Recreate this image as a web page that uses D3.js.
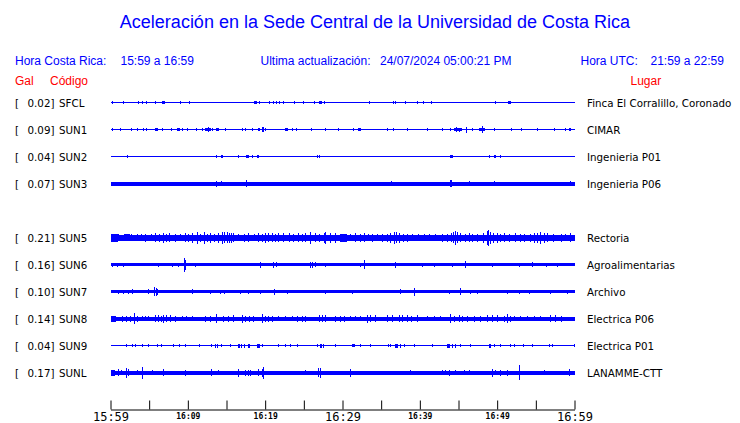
<!DOCTYPE html>
<html><head><meta charset="utf-8">
<script src="https://cdn.jsdelivr.net/npm/d3@7/dist/d3.min.js"></script>
<style>
html,body{margin:0;padding:0;background:#fff;}
svg{display:block;}
</style></head><body>
<svg id="chart" width="740" height="423"></svg>
<script>
// ---------- data ----------
const title = "Aceleración en la Sede Central de la Universidad de Costa Rica";
const localRange = "15:59 a 16:59";
const utcRange = "21:59 a 22:59";
const lastUpdate = "24/07/2024 05:00:21 PM";
const startTime = "2024-07-24T15:59:00";
const endTime = "2024-07-24T16:59:00";
const rowSlots = ["SFCL","SUN1","SUN2","SUN3","SUN4","SUN5","SUN6","SUN7","SUN8","SUN9","SUNL"];
const codes = ["SFCL","SUN1","SUN2","SUN3","SUN5","SUN6","SUN7","SUN8","SUN9","SUNL"];
const galValues = [0.02,0.09,0.04,0.07,0.21,0.16,0.10,0.14,0.04,0.17];
const places = ["Finca El Corralillo, Coronado","CIMAR","Ingenieria P01","Ingenieria P06","Rectoria","Agroalimentarias","Archivo","Electrica P06","Electrica P01","LANAMME-CTT"];
// background noise level (relative amplitude) of each trace
const noiseLevel = [0.5,0.5,0.5,2,3,1.5,1.5,2,0.5,2];
// peaks: [minutes after 15:59, relative amplitude, duration in minutes]
const peaksSFCL = [[0.16,1.5],[1.58,1.5],[3.6,1.5],[4.04,1.5],[4.56,1.5],[5.76,1.5],[6.71,1.5,0.35],[9.0,1.5],[10.16,1.5],[18.58,1.5,0.35],[19.22,1.5],[20.56,1.5],[21.0,1.5],[21.42,1.5],[21.85,1.5],[22.29,1.5],[23.75,1.5],[24.88,1.5],[26.25,1.5],[26.9,1.5,0.35],[27.55,1.5],[33.37,1.5],[36.53,1.5],[36.83,1.5],[38.03,1.5],[39.64,1.5],[40.41,1.5],[41.49,1.5],[49.68,1.5],[51.42,1.5,0.35]];
const peaksSUN1 = [[0.2,1.5],[1.2,1.5],[2.7,1.5],[3.4,1.5],[4.2,1.5],[4.6,1.5],[5.8,1.5,0.35],[6.6,1.5],[7.8,1.5],[8.6,1.5,0.35],[9.2,1.5],[9.9,1.5],[11.1,1.5],[11.8,1.5],[12.2,1.5,0.8],[12.6,2.5],[13.1,1.5],[13.7,1.5,0.35],[14.8,1.5],[17.0,1.5],[17.4,1.5],[18.3,1.5],[19.1,1.5,0.3],[19.6,2.5,0.3],[20.0,1.5],[22.5,1.5,0.35],[23.5,1.5],[24.0,1.5],[25.9,1.5],[27.8,1.5],[29.4,1.5],[31.3,1.5],[32.0,1.5,0.35],[35.7,1.5],[36.5,1.5],[38.3,1.5],[40.9,1.5],[42.9,1.5],[43.9,1.5],[44.4,1.5,1.0],[44.7,2.5],[45.1,2],[46.0,3],[46.8,1.5],[47.7,1.5,0.8],[48.1,3.5],[49.6,1.5],[51.8,1.5],[53.1,1.5],[55.2,1.5],[57.4,1.5],[58.8,1.5],[59.3,1.5,0.3]];
const peaksSUN2 = [[2.1,1.5],[13.7,1.5],[14.3,1.5,0.3],[16.5,1.5],[17.5,1.5,0.35],[18.3,1.5],[18.9,1.5,0.3],[26.7,1.5],[27.0,1.5],[43.9,1.5,0.35],[49.0,1.5],[49.6,1.5,0.3],[50.4,1.5]];
const peaksSUN3 = [[13.66,3],[14.27,2.5],[17.54,3.5],[36.27,2.5],[43.95,3.5,0.2],[46.32,2.5],[49.55,2.5],[59.48,2.5]];
const peaksSUN5 = [[0.0,4,0.9],[1.0,3.5],[1.7,3.5,0.8],[2.6,3.5],[3.4,3.5],[4.0,3.5],[4.47,4],[5.2,3.5],[5.8,4.5],[6.3,4],[6.8,5],[7.2,4],[7.5,4.5],[8.35,4],[9.0,3.5],[9.64,4.5],[10.0,4],[10.59,5],[11.16,6],[11.6,4],[12.1,6],[12.5,4],[12.88,5],[13.4,4],[13.95,5],[14.4,6],[14.7,5.5],[15.0,5.5],[15.3,5],[15.6,5],[15.9,4.5],[16.5,3.5],[17.2,4],[17.84,4.5],[18.5,3.5],[19.13,4.5],[19.6,4],[20.0,5],[20.4,4.5],[20.87,4.5],[21.3,4],[21.72,4.5],[22.3,4.5],[23.02,4.5],[23.6,4],[24.31,4.5],[24.8,4],[25.18,4.5],[25.83,6],[26.47,4.5],[27.0,4],[27.55,5],[27.77,6],[28.4,5],[29.06,5],[29.7,4,0.9],[30.36,4],[31.0,3.5],[31.65,4.5],[32.2,4],[32.73,4.5],[33.3,3.5],[33.81,4],[34.5,3.5],[35.11,4],[35.7,4],[36.18,5],[36.61,6],[36.96,5.5],[37.26,5],[37.8,4],[38.34,4],[39.0,3.5],[39.8,3.5],[40.49,3.5],[41.2,3.5],[42.0,3.5],[42.87,4],[43.52,4],[44.0,4.5],[44.33,5.5],[44.6,7],[44.86,5.5],[45.24,4.5],[45.8,4],[46.32,4.5],[46.8,4],[47.4,4],[48.2,5],[48.7,7],[48.83,8],[49.13,6],[49.5,5],[49.99,5],[50.4,4],[50.85,4.5],[51.5,4],[52.36,4.5],[53.0,4],[53.53,4],[54.2,4],[54.73,5],[55.2,5],[55.6,6],[56.0,5],[56.47,4.5],[57.2,4],[58.19,4],[58.8,3.5],[59.48,4.5]];
const peaksSUN6 = [[0.16,2],[0.8,2],[1.66,2],[6.19,2],[7.92,2],[8.7,2],[9.55,7],[9.64,5],[10.94,2],[19.35,3],[21.07,3],[21.39,2.5],[25.83,3],[26.12,3],[26.47,2.5],[27.77,2],[32.3,2],[32.73,4.5],[36.83,3],[40.28,2],[41.79,2],[44.17,2],[45.89,3.5],[49.35,2],[52.79,2],[54.52,2.5],[56.25,2],[57.76,2]];
const peaksSUN7 = [[1.01,2],[1.6,2],[2.3,2],[2.74,2.5],[4.82,2.5],[5.67,4.5],[5.9,4],[6.06,3],[10.51,2.5],[12.88,2],[14.17,2],[14.73,2],[16.76,2],[17.84,2],[19.35,2],[21.2,3],[22.81,2],[27.77,2],[31.22,2],[37.39,2.5],[39.2,4],[43.73,2],[45.24,3.5],[46.54,2],[47.4,2],[51.29,2],[52.79,2],[54.08,2],[56.89,2],[59.06,2]];
const peaksSUN8 = [[0.0,3,0.6],[1.45,3],[2.0,3],[2.5,3],[3.08,5.7],[3.39,3],[4.04,2.5],[4.47,2.5],[4.89,2.5],[5.76,3.5],[6.15,3.5],[6.54,3],[6.83,4],[7.2,3.5],[7.7,3.5],[8.35,3],[9.22,2.5],[9.8,2.5],[10.51,2.5],[12.23,3],[12.88,3],[13.62,4.5],[14.6,3],[15.2,3],[15.9,3.5],[16.98,4],[17.41,3],[17.9,3],[18.49,3],[19.57,4.5],[20.0,3],[20.4,3],[20.87,3],[21.72,2.5],[22.59,2.5],[23.46,2.5],[24.1,3],[24.7,3],[25.18,3],[26.9,3.5],[27.4,3.5],[27.77,3.5],[29.06,3],[29.71,3],[30.2,3],[31.0,2.5],[31.65,2.5],[32.3,2.5],[33.17,4],[33.6,3.5],[34.24,3.5],[35.75,3.5],[36.4,3.5],[37.26,3.5],[37.7,3.5],[38.3,3.5],[38.9,3],[39.64,3.5],[40.93,2.5],[41.8,2.5],[42.65,2.5],[43.86,4.5],[44.38,3],[45.0,3.5],[45.5,3],[46.11,3],[46.96,3],[47.83,3],[48.7,3.5],[49.3,3.5],[49.99,3.5],[50.85,3],[51.29,4.5],[51.72,3],[52.14,2.5],[53.0,2.5],[53.9,2.5],[54.8,2.5],[55.6,2.5],[56.89,3.5],[57.5,3.5],[58.19,3]];
const peaksSUN9 = [[1.97,1.5],[2.74,1.5],[3.17,1.5],[4.12,1.5],[4.89,1.5],[6.06,1.5],[6.5,1.5],[8.13,1.5],[8.91,1.5],[9.64,1.5],[11.5,1.5],[13.01,1.5],[13.53,2],[13.75,2],[14.3,1.5],[15.47,1.5],[16.54,2,0.3],[16.9,2],[17.3,2],[17.76,2,0.3],[18.93,2,0.3],[19.22,2],[19.57,1.5],[21.72,1.5],[22.59,1.5],[23.24,1.5],[24.1,1.5],[26.69,1.5],[27.12,2,0.3],[27.42,2],[29.06,1.5],[31.22,1.5,0.3],[31.52,1.5],[32.3,1.5],[33.59,1.5],[35.88,1.5],[36.18,1.5],[36.83,2,0.3],[37.1,2],[37.39,2],[37.9,1.5],[39.2,1.5],[41.58,1.5],[43.52,2,0.3],[43.8,2],[44.1,2],[44.6,2],[45.24,1.5],[46.45,1.5],[48.91,2,0.3],[49.13,2],[49.55,1.5],[50.42,1.5],[51.72,1.5],[52.14,1.5],[53.36,1.5],[54.52,1.5],[56.67,1.5],[57.11,1.5],[59.91,1.5]];
const peaksSUNL = [[0.1,3,0.5],[1.01,3.5],[1.36,2.5],[1.97,5],[2.3,3.5],[3.39,2.5],[4.12,6],[5.33,2.5],[6.83,3.5],[9.64,3],[13.01,3.5],[13.95,2.5],[16.54,4],[17.41,3],[17.8,3],[18.06,3],[19.13,3.5],[19.57,4],[19.78,6],[25.18,2.5],[26.77,4.5],[27.12,5],[31.0,4],[38.77,2.5],[42.87,2.5],[43.3,2.5],[43.73,3],[44.6,2.5],[45.67,2.5],[46.32,2.5],[49.35,4],[49.77,2.5],[50.42,3],[51.29,3],[52.79,7.5],[56.03,2.5],[59.26,3.5]];
const peaksByStation = [peaksSFCL,peaksSUN1,peaksSUN2,peaksSUN3,peaksSUN5,peaksSUN6,peaksSUN7,peaksSUN8,peaksSUN9,peaksSUNL];
const axisTicks = ["15:59","16:04","16:09","16:14","16:19","16:24","16:29","16:34","16:39","16:44","16:49","16:54","16:59"];
const smallLabels = ["16:09","16:19","16:39","16:49"];
const bigLabels = ["15:59","16:29","16:59"];

// ---------- drawing ----------
const svg = d3.select("#chart");
const BLUE = "#0000ff", RED = "#ff0000";
const SANS = "'Liberation Sans', Arial, sans-serif";
const DJV = "'DejaVu Sans', sans-serif";
const MONO = "'DejaVu Sans Mono', monospace";

const parse = d3.timeParse("%Y-%m-%dT%H:%M:%S");
const t0 = parse(startTime), t1 = parse(endTime);
const x = d3.scaleTime().domain([t0, t1]).range([110.5, 574.5]);
const atMin = m => new Date(t0.getTime() + m * 60000);
const rowY = d3.scalePoint().domain(rowSlots).range([102.5, 372.5]);
const amp = d3.scaleLinear().domain([-10, 10]).range([10, -10]);

// title
svg.append("text").attr("x", 375).attr("y", 28).attr("text-anchor", "middle")
  .attr("font-family", SANS).attr("font-size", 18).attr("fill", BLUE).text(title);

// header
const hdr = [
  [15, "Hora Costa Rica:"], [120.5, localRange],
  [260.5, "Ultima actualización:"], [380, lastUpdate],
  [580.5, "Hora UTC:"], [650.5, utcRange]
];
svg.append("g").selectAll("text").data(hdr).join("text")
  .attr("x", d => d[0]).attr("y", 65)
  .attr("font-family", SANS).attr("font-size", 12).attr("fill", BLUE)
  .text(d => d[1]);
const sub = [[15, "Gal"], [50, "Código"], [630.5, "Lugar"]];
svg.append("g").selectAll("text").data(sub).join("text")
  .attr("x", d => d[0]).attr("y", 85)
  .attr("font-family", SANS).attr("font-size", 12).attr("fill", RED)
  .text(d => d[1]);

// rows
codes.forEach((code, i) => {
  const cy = rowY(code);
  const g = svg.append("g").attr("transform", `translate(0,${cy})`);
  g.append("text").attr("x", 15).attr("y", 4).attr("font-family", DJV)
    .attr("font-size", 10.3).attr("fill", "#000").text("[");
  g.append("text").attr("x", 54.5).attr("y", 4).attr("text-anchor", "end")
    .attr("font-family", DJV).attr("font-size", 10.3).attr("fill", "#000")
    .text(d3.format(".2f")(galValues[i]) + "]");
  g.append("text").attr("x", 59).attr("y", 4).attr("font-family", DJV)
    .attr("font-size", 10.3).attr("fill", "#000").text(code);
  g.append("text").attr("x", 587).attr("y", 4).attr("font-family", DJV)
    .attr("font-size", 10.3).attr("fill", "#000").text(places[i]);
  const tr = g.append("g").attr("shape-rendering", "crispEdges").attr("fill", BLUE);
  const n = noiseLevel[i];
  tr.append("rect").attr("x", x(t0)).attr("width", x(t1) - x(t0))
    .attr("y", amp(n)).attr("height", amp(-n) - amp(n));
  tr.selectAll("rect.pk").data(peaksByStation[i]).join("rect").attr("class", "pk")
    .attr("x", d => Math.round(x(atMin(d[0]))))
    .attr("width", d => Math.max(1, x(atMin(d[0] + (d[2] || 0))) - x(atMin(d[0]))))
    .attr("y", d => amp(d[1]))
    .attr("height", d => amp(-d[1]) - amp(d[1]));
});

// axis
const tickDates = axisTicks.map(s => parse("2024-07-24T" + s + ":00"));
const fmt = d3.timeFormat("%H:%M");
const axis = d3.axisBottom(x).tickValues(tickDates).tickSizeInner(-9).tickSizeOuter(0)
  .tickFormat(d => { const s = fmt(d); return (smallLabels.includes(s) || bigLabels.includes(s)) ? s : ""; });
const ag = svg.append("g").attr("transform", "translate(0,409.5)").call(axis);
ag.select(".domain").attr("stroke", "#000");
ag.selectAll(".tick line").attr("stroke", "#000");
ag.selectAll(".tick text").attr("fill", "#000").attr("dy", null)
  .attr("font-family", MONO)
  .attr("font-weight", d => bigLabels.includes(fmt(d)) ? "normal" : "bold")
  .attr("font-size", d => bigLabels.includes(fmt(d)) ? 12 : 8)
  .attr("y", d => bigLabels.includes(fmt(d)) ? 11.5 : 9.5);
</script>
</body></html>
